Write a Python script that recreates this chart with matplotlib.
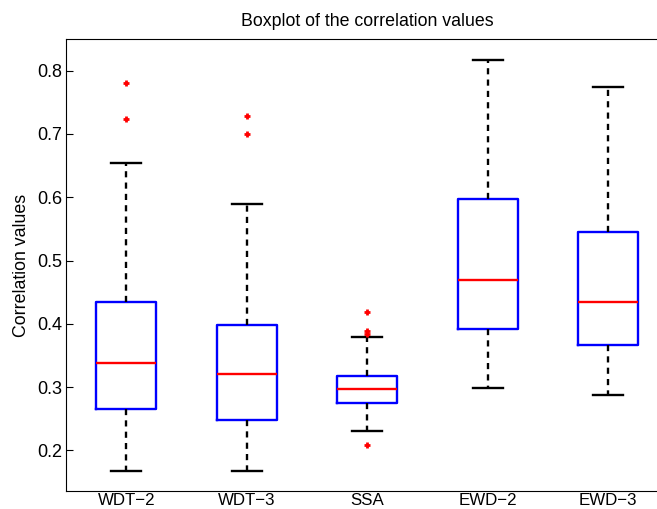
from matplotlib import pyplot as plt

plt.rcParams['font.family'] = ['Liberation Sans', 'DejaVu Sans']

labels = ['WDT\u22122', 'WDT\u22123', 'SSA', 'EWD\u22122', 'EWD\u22123']
whislo = [0.168, 0.168, 0.230, 0.298, 0.287]
q1 = [0.266, 0.248, 0.275, 0.392, 0.367]
med = [0.338, 0.321, 0.297, 0.469, 0.435]
q3 = [0.434, 0.399, 0.317, 0.597, 0.545]
whishi = [0.654, 0.590, 0.380, 0.817, 0.774]
fliers = [[0.781, 0.724], [0.728, 0.700], [0.418, 0.388, 0.384, 0.209], [], []]

stats = []
for i in range(len(labels)):
    stats.append(dict(label=labels[i], whislo=whislo[i], q1=q1[i], med=med[i],
                      q3=q3[i], whishi=whishi[i], fliers=fliers[i]))

fig = plt.figure(figsize=(6.57, 5.09), dpi=100)
ax = fig.add_axes([66/657, 18/509, 602.5/657, 452/509])

ax.bxp(stats, widths=0.5,
       boxprops=dict(color='blue', linewidth=1.7),
       medianprops=dict(color='red', linewidth=1.7),
       whiskerprops=dict(color='black', linewidth=1.7, linestyle=(0, (2.6, 2.2))),
       capprops=dict(color='black', linewidth=1.7),
       capwidths=0.25,
       flierprops=dict(marker='+', markeredgecolor='red', markersize=5,
                       markeredgewidth=2))

ax.set_xlim(0.5, 5.5)
ax.set_ylim(0.136, 0.85)
ax.set_yticks([0.2, 0.3, 0.4, 0.5, 0.6, 0.7, 0.8])
ax.tick_params(axis='y', direction='in', length=5, labelsize=13, pad=2.5)
ax.tick_params(axis='x', length=0, labelsize=12.2, pad=1.5)
ax.set_ylabel('Correlation values', fontsize=12.8, labelpad=5)
ax.set_title('Boxplot of the correlation values', fontsize=12.8, pad=9)

plt.savefig('out.png', dpi=100)
